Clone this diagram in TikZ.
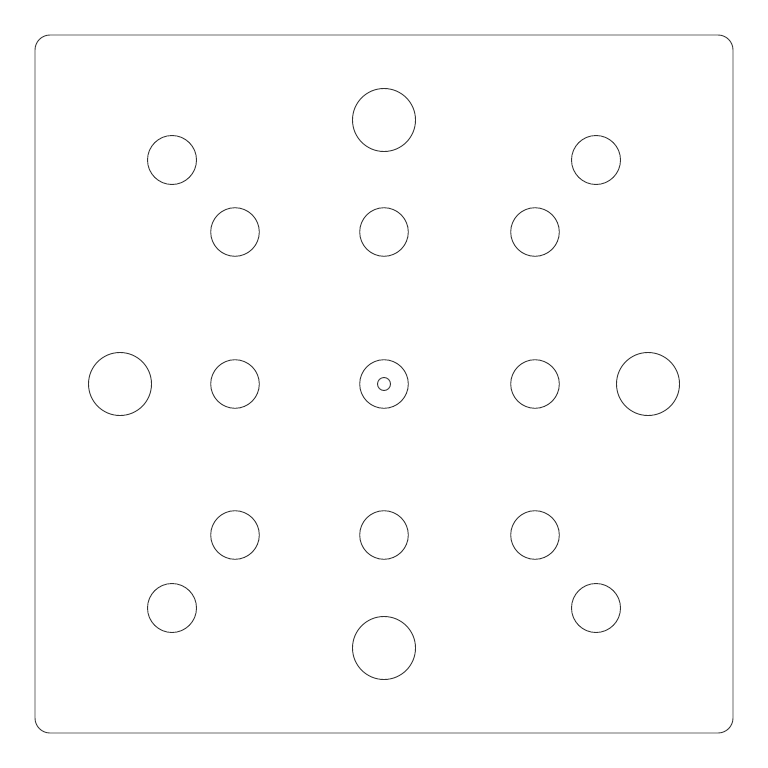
\documentclass[tikz,border=0pt]{standalone}
\begin{document}
\begin{tikzpicture}[x=1pt,y=-1pt,
  outline/.style={draw=black!80,line width=0.9pt}]
\useasboundingbox (0,0) rectangle (768,768);
\fill[white] (0,0) rectangle (768,768);
\draw[outline,rounded corners=15pt] (35,35) rectangle (733,733);
% large holes
\foreach \p in {(384,120),(384,648),(120,384),(648,384)}
  \draw[outline] \p circle[radius=31.5];
% outer corner holes
\foreach \p in {(172,160),(596,160),(172,608),(596,608)}
  \draw[outline] \p circle[radius=24.5];
% inner grid holes
\foreach \x in {235,384,535}
  \foreach \y in {232,384,535}
    \draw[outline] (\x,\y) circle[radius=24.3];
% centre pin hole
\draw[outline] (384,384) circle[radius=6.5];
\end{tikzpicture}
\end{document}
